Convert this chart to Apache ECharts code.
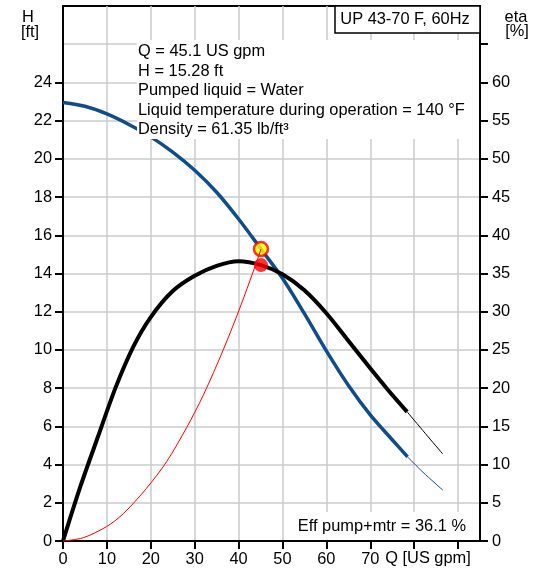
<!DOCTYPE html>
<html>
<head>
<meta charset="utf-8">
<script src="https://cdn.jsdelivr.net/npm/echarts@6/dist/echarts.min.js"></script>
<style>html,body{margin:0;padding:0;background:#fff}#c{width:536px;height:568px}</style>
</head>
<body>
<div id="c"></div>
<script>
// ---- data ----
var xTicks = [0,10,20,30,40,50,60,70,80,90];
var xLabels = [0,10,20,30,40,50,60,70];
var hTicks = [0,2,4,6,8,10,12,14,16,18,20,22,24];
var etaTicks = [0,5,10,15,20,25,30,35,40,45,50,55,60,65];
var etaLabels = [0,5,10,15,20,25,30,35,40,45,50,55,60];

// Q-H curve (thick = operating range, thin = extension)
var headThick = [[0,22.95],[5,22.75],[10,22.35],[15,21.8],[20,21.15],[25,20.35],[30,19.4],[35,18.25],[40,16.85],[45.1,15.28],[50,13.75],[55,11.9],[60,9.95],[65,8.15],[70,6.6],[75,5.3],[78.5,4.4]];
var headThin = [[78.5,4.4],[82,3.6],[86.5,2.67]];
// Efficiency curve (right axis, %)
var etaThick = [[0,0],[4,7.2],[8,13.7],[12,20.1],[16,25.4],[20,29.3],[25,32.7],[30,34.7],[35,36.0],[40,36.6],[45.1,36.1],[50,34.9],[55,32.8],[60,29.8],[65,26.2],[70,22.6],[74,19.8],[78.4,16.9]];
var etaThin = [[78.4,16.9],[82.5,14.1],[86.5,11.4]];
// System curve
var systemCurve = [[0,0],[4.6,0.17],[9.9,0.75],[13.7,1.42],[19,2.75],[23.6,4.15],[28.2,5.95],[32,7.65],[36.5,10.0],[40.3,12.2],[43.8,14.4],[45.1,15.28]];
// Duty point
var dutyQ = 45.1, dutyH = 15.28, dutyEta = 36.1;

var infoLines = ['Q = 45.1 US gpm','H = 15.28 ft','Pumped liquid = Water','Liquid temperature during operation = 140 °F','Density = 61.35 lb/ft³'];
var titleText = 'UP 43-70 F, 60Hz';
var effText = 'Eff pump+mtr = 36.1 %';

var FONT = '"Liberation Sans", Arial, sans-serif';
var FS = 16.4;
var BLUE = '#0f4d88';
var GRID = '#c9cbce';

function inList(list){return function(v){return list.indexOf(v) >= 0 ? String(v) : '';};}

var chart = echarts.init(document.getElementById('c'), null, {renderer:'canvas'});

function txt(x,y,t,align){
  return {type:'text', x:x, y:y, style:{text:t, font:FS+'px '+FONT, fill:'#000', textAlign:align||'center', textVerticalAlign:'middle'}, z:102, silent:true};
}
var graphics = [
  {type:'rect', shape:{x:137,y:40,width:342,height:99}, style:{fill:'#fff'}, z:100, silent:true},
  {type:'rect', shape:{x:290,y:512,width:188,height:28}, style:{fill:'#fff'}, z:100, silent:true},
  {type:'rect', shape:{x:335,y:6,width:145,height:27}, style:{fill:'#fff', stroke:'#000', lineWidth:1.5}, z:101, silent:true},
  txt(405,19.5,titleText),
  txt(466,526,effText,'right'),
  txt(428,558,'Q [US gpm]'),
  txt(28,17,'H'),
  txt(30,32,'[ft]'),
  txt(516,17,'eta'),
  txt(517,31,'[%]')
];
var infoY = [51.5, 71, 90.5, 110, 129.5];
infoLines.forEach(function(t,i){ graphics.push(txt(138, infoY[i], t, 'left')); });

var axisLineStyle = {color:'#000', width:2};
var lab = {show:true,color:'#000',fontSize:FS,fontFamily:FONT};
function labOpt(extra){ var o = {}; for (var k in lab) o[k]=lab[k]; for (var k2 in extra) o[k2]=extra[k2]; return o; }

var option = {
  animation:false,
  backgroundColor:'#fff',
  grid:{left:63,right:56,top:6,bottom:27,show:true,borderColor:'#000',borderWidth:2,backgroundColor:'transparent'},
  xAxis:{
    type:'value', min:0, max:95, interval:10,
    axisLine:{show:true,onZero:false,lineStyle:axisLineStyle},
    axisTick:{show:true,length:8,lineStyle:{color:'#000',width:2},customValues:xTicks},
    axisLabel:labOpt({margin:10,customValues:xLabels,formatter:inList(xLabels)}),
    splitLine:{show:true,lineStyle:{color:GRID,width:1.5}}
  },
  yAxis:[
    {type:'value', min:0, max:28, interval:2, position:'left',
      axisLine:{show:true,onZero:false,lineStyle:axisLineStyle},
      axisTick:{show:true,length:8,lineStyle:{color:'#000',width:2},customValues:hTicks},
      axisLabel:labOpt({margin:11,customValues:hTicks,formatter:inList(hTicks)}),
      splitLine:{show:false}
    },
    {type:'value', min:0, max:70, interval:5, position:'right',
      axisLine:{show:true,onZero:false,lineStyle:axisLineStyle},
      axisTick:{show:true,length:8,lineStyle:{color:'#000',width:2},customValues:etaTicks},
      axisLabel:labOpt({margin:12,customValues:etaLabels,formatter:inList(etaLabels)}),
      splitLine:{show:true,lineStyle:{color:GRID,width:1.5}}
    }
  ],
  series:[
    {type:'line', data:headThick, yAxisIndex:0, smooth:0.3, showSymbol:false, symbol:'none', lineStyle:{color:BLUE,width:3.5}, z:2},
    {type:'line', data:headThin, yAxisIndex:0, smooth:0.3, showSymbol:false, symbol:'none', lineStyle:{color:BLUE,width:1}, z:2},
    {type:'line', data:etaThick, yAxisIndex:1, smooth:0.3, showSymbol:false, symbol:'none', lineStyle:{color:'#000',width:4}, z:2},
    {type:'line', data:etaThin, yAxisIndex:1, smooth:0.3, showSymbol:false, symbol:'none', lineStyle:{color:'#000',width:1}, z:2},
    {type:'scatter', data:[[dutyQ,dutyEta]], yAxisIndex:1, symbol:'circle', symbolSize:14, itemStyle:{color:'#ff0000'}, z:3},
    {type:'scatter', data:[[dutyQ,dutyH]], yAxisIndex:0, symbol:'circle', symbolSize:14, itemStyle:{color:'#ffff00',borderColor:'#ff0000',borderWidth:2.5}, z:4},
    {type:'line', data:systemCurve, yAxisIndex:0, smooth:0.3, showSymbol:false, symbol:'none', lineStyle:{color:'#ff0000',width:1}, z:5}
  ],
  graphic:graphics
};
chart.setOption(option);
</script>
</body>
</html>
